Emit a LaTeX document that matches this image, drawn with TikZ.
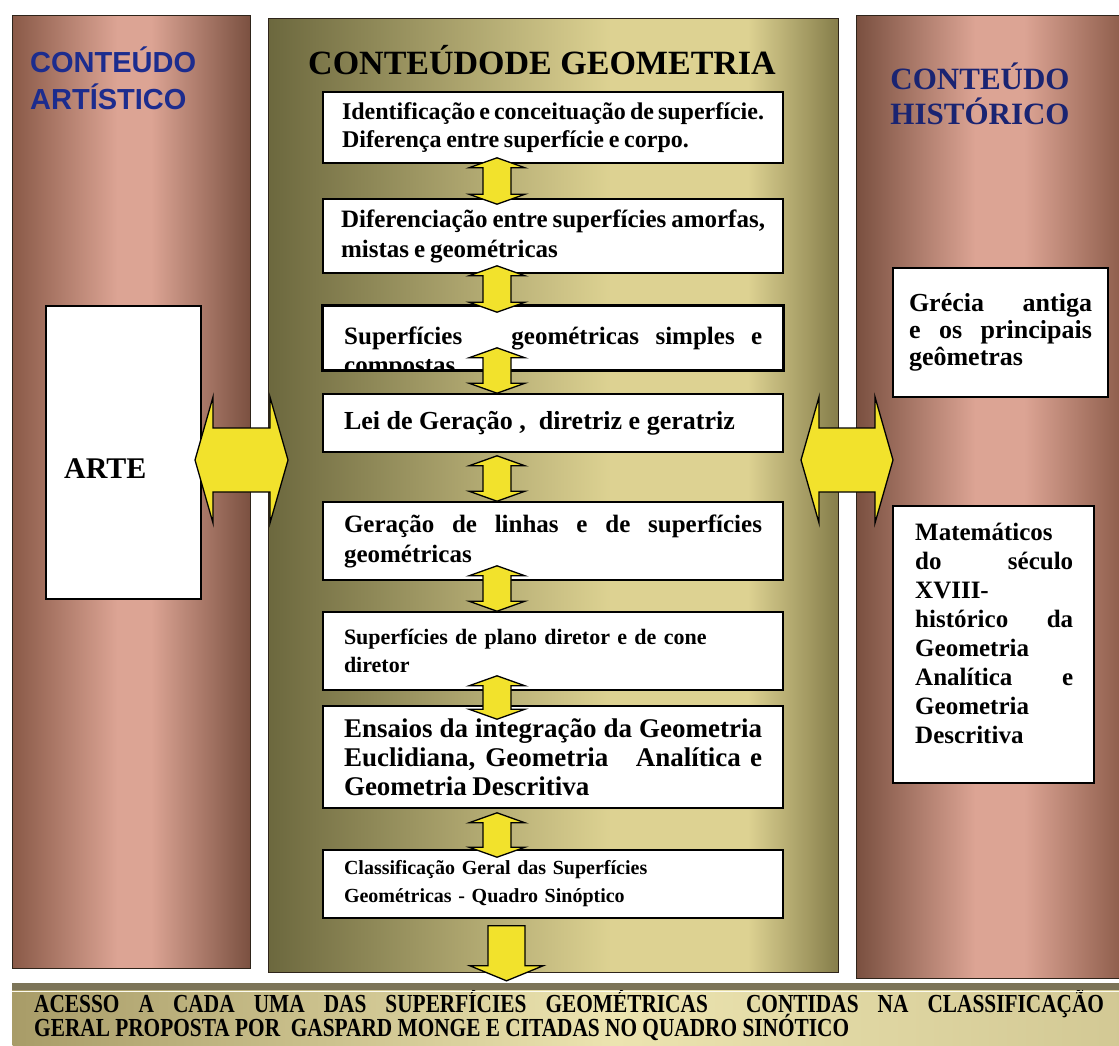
\documentclass[tikz,border=0pt]{standalone}
\usepackage{fontspec}
\setmainfont{Liberation Serif}
\newfontfamily\titlesans{Liberation Sans}
\newfontfamily\bandserif[FakeStretch=0.82]{Liberation Serif}
\usetikzlibrary{calc}

\definecolor{copperdark}{HTML}{8A5A48}
\definecolor{copperlight}{HTML}{DCA494}
\definecolor{copperedge}{HTML}{7A5040}
\definecolor{olivedark}{HTML}{6C683E}
\definecolor{olivelight}{HTML}{DDD292}
\definecolor{oliveright}{HTML}{857D4A}
\definecolor{bandleft}{HTML}{A89C68}
\definecolor{bandlight}{HTML}{ECE4B0}
\definecolor{bandright}{HTML}{D2C894}
\definecolor{bandstripe}{HTML}{7C7458}
\definecolor{arrowfill}{HTML}{F2E22C}
\definecolor{artblue}{HTML}{1C2C8E}
\definecolor{histblue}{HTML}{1A2472}
\definecolor{paneledge}{HTML}{2E241A}

% metallic panel shadings (the 25bp..75bp range spans the filled shape)
\pgfdeclarehorizontalshading{copperleft}{100bp}{color(0bp)=(copperdark); color(25bp)=(copperdark); color(47bp)=(copperlight); color(54bp)=(copperlight); color(75bp)=(copperedge); color(100bp)=(copperedge)}
\pgfdeclarehorizontalshading{copperright}{100bp}{color(0bp)=(copperedge); color(25bp)=(copperedge); color(47bp)=(copperlight); color(56bp)=(copperlight); color(75bp)=(copperdark); color(100bp)=(copperdark)}
\pgfdeclarehorizontalshading{olivepanel}{100bp}{color(0bp)=(olivedark); color(25bp)=(olivedark); color(55bp)=(olivelight); color(67bp)=(olivelight); color(75bp)=(oliveright); color(100bp)=(oliveright)}
\pgfdeclarehorizontalshading{goldband}{100bp}{color(0bp)=(bandleft); color(25bp)=(bandleft); color(52bp)=(bandlight); color(75bp)=(bandright); color(100bp)=(bandright)}

% bold serif text of a given size and line distance, with slightly tight word spaces
\newcommand\topicfont[2]{\bfseries\fontsize{#1}{#2}\selectfont\spaceskip=.2em plus 1em minus .08em\relax}
% condensed capitals of the bottom band, lines set closer than their accents
\newcommand\bandfont{\bandserif\bfseries\fontsize{26}{24}\selectfont\lineskiplimit=-30pt\relax}

% double-headed vertical link between two stacked boxes:
% #1 upper box, #2 lower box, #3 x offset from the box centre,
% #4 overlap of the top tip into #1, #5 overlap of the bottom tip into #2
\newcommand\vdlink[5]{%
  \filldraw[yarrow]
    ($(#1.south)+({#3},{-(#4)})$) -- ++(28,10) -- ++(-14,0)
    -- ($(#2.north)+({#3+14},{(#5)-10})$) -- ++(14,0)
    -- ($(#2.north)+({#3},{#5})$) -- ++(-28,-10) -- ++(14,0)
    -- ($(#1.south)+({#3-14},{10-(#4)})$) -- ++(-14,0) -- cycle;}

% double-headed horizontal link between two tip coordinates
\newcommand\hdlink[2]{%
  \filldraw[yarrow]
    (#1) -- ++(18,-63) -- ++(0,31) -- ($(#2)+(-18,-32)$) -- ++(0,-31)
    -- (#2) -- ++(-18,63) -- ++(0,-31) -- ($(#1)+(18,32)$) -- ++(0,31) -- cycle;}

\begin{document}
\begin{tikzpicture}[x=1pt,y=-1pt,
  panel/.style={draw=paneledge, line width=1.4pt, inner sep=0pt, anchor=north west},
  whitebox/.style={draw=black, line width=1.6pt, fill=white, inner ysep=0pt},
  geobox/.style={whitebox, text width=418pt, inner xsep=21pt, align=justify},
  yarrow/.style={fill=arrowfill, draw=black, line width=1.3pt, line join=miter},
]
\fill[white] (0,0) rectangle (1119,1045);
\useasboundingbox (0,0) rectangle (1119,1045);

% three metallic columns
\node[panel, shading=copperleft, minimum width=238pt, minimum height=953pt] (artcol) at (12,15) {};
\node[panel, shading=olivepanel, minimum width=570pt, minimum height=954pt] (geocol) at (268,18) {};
\node[panel, shading=copperright, minimum width=270pt, minimum height=963pt] (histcol) at (856,15) {};

% bottom band
\node[panel, draw=none, shading=goldband, minimum width=1113pt, minimum height=64pt,
      text width=1070pt, align=justify, font=\bandfont] (band) at (12,983)
  {ACESSO A CADA UMA DAS SUPERFÍCIES GEOMÉTRICAS\ \ CONTIDAS NA CLASSIFICAÇÃO\linebreak
   GERAL PROPOSTA POR\ \ GASPARD MONGE E CITADAS NO QUADRO SINÓTICO};
\fill[bandstripe] (band.north west) rectangle ($(band.north east)+(0,7)$);
\draw[white!80!bandlight, line width=1pt] ($(band.north west)+(0,8.5)$) -- ($(band.north east)+(0,8.5)$);

% column titles
\node[anchor=north west, align=left, text=artblue, inner sep=0pt,
      font=\titlesans\bfseries\fontsize{29}{37}\selectfont] (arttitle) at (30,47) {CONTEÚDO\\ARTÍSTICO};
\node[anchor=north, align=center, text=histblue, inner sep=0pt,
      font=\bfseries\fontsize{31}{35}\selectfont] (histtitle) at (980,63) {CONTEÚDO\\HISTÓRICO};
\node[anchor=north, inner sep=0pt, font=\bfseries\fontsize{34}{40}\selectfont] (geotitle) at (542,45) {CONTEÚDODE GEOMETRIA};

% left column
\node[whitebox, anchor=north west, minimum width=155pt, minimum height=293pt] (artbox) at (45,305) {};
\node[anchor=base west, inner sep=0pt, font=\bfseries\fontsize{30}{32}\selectfont] (artlabel) at (64,478) {ARTE};

% right column
\node[whitebox, align=justify, text width=183pt, inner xsep=16pt, minimum height=129pt,
      font=\bfseries\fontsize{26}{27}\selectfont] (greece) at (1000.5,332.5)
  {Grécia antiga\linebreak e os principais\linebreak geômetras};
\node[whitebox, minimum width=201pt, minimum height=277pt] (mathbox) at (993.5,644.5) {};
\node[anchor=north west, inner sep=0pt, text width=158pt, align=justify,
      font=\bfseries\fontsize{25}{29}\selectfont] (mathtext) at (915,523)
  {Matemáticos\\do século\linebreak XVIII-\\histórico da\linebreak Geometria\\Analítica e\linebreak Geometria\\Descritiva};

% central sequence of topics
\node[geobox, text width=422pt, inner xsep=19pt, minimum height=71pt, font=\topicfont{24}{28}] (g1) at (553,127.5)
  {Identificação e conceituação de superfície.\linebreak Diferença entre superfície e corpo.};
\node[geobox, text width=424pt, inner xsep=18pt, minimum height=74pt, font=\topicfont{25}{30}] (g2) at (553,236)
  {Diferenciação entre superfícies amorfas,\linebreak mistas e geométricas};
\node[geobox, minimum height=64pt] (g3) at (553,338) {};
\begin{scope}
  \clip (g3.north west) rectangle (g3.south east);
  \node[anchor=north west, inner sep=0pt, text width=418pt, align=justify,
        font=\bfseries\fontsize{25}{29}\selectfont] (g3text) at (344,327)
    {Superfícies\ \ \ geométricas simples e\linebreak compostas};
\end{scope}
\draw[black, line width=1.6pt] (g3.north west) rectangle (g3.south east);
\node[geobox, minimum height=58pt, font=\bfseries\fontsize{26}{30}\selectfont] (g4) at (553,423)
  {Lei de Geração ,\ \ diretriz e geratriz};
\node[geobox, minimum height=78pt, font=\bfseries\fontsize{25}{30}\selectfont] (g5) at (553,541)
  {Geração de linhas e de superfícies\linebreak geométricas};
\node[geobox, align=left, minimum height=78pt, font=\bfseries\fontsize{22}{28}\selectfont] (g6) at (553,651)
  {Superfícies de plano diretor e de cone\\diretor};
\node[geobox, minimum height=102pt, font=\topicfont{27}{29}] (g7) at (553,757)
  {Ensaios da integração da Geometria\linebreak Euclidiana, Geometria\ \ \ Analítica e\linebreak Geometria Descritiva};
\node[geobox, align=left, minimum height=68pt, font=\bfseries\fontsize{20}{28}\selectfont] (g8) at (553,884)
  {Classificação Geral das Superfícies\\Geométricas - Quadro Sinóptico};

% links between consecutive topics
\vdlink{g1}{g2}{-56}{6}{6}
\vdlink{g2}{g3}{-56}{8}{7}
\vdlink{g3}{g4}{-56}{23}{0}
\vdlink{g4}{g5}{-56}{-3}{0}
\vdlink{g5}{g6}{-56}{15}{0}
\vdlink{g6}{g7}{-56}{15}{14}
\vdlink{g7}{g8}{-56}{-4}{8}

% final arrow down to the band
\filldraw[yarrow] ($(g8.south)+(-65,7)$) -- ++(37,0) -- ++(0,40) -- ++(18,0)
  -- ($(g8.south)+(-46.5,62)$) -- ++(-36.5,-15) -- ++(18,0) -- cycle;

% side links
\coordinate (artport) at (195,460);
\coordinate (geoportL) at (288,460);
\coordinate (geoportR) at (801,460);
\coordinate (histport) at (893,460);
\hdlink{artport}{geoportL}
\hdlink{geoportR}{histport}
\end{tikzpicture}
\end{document}
